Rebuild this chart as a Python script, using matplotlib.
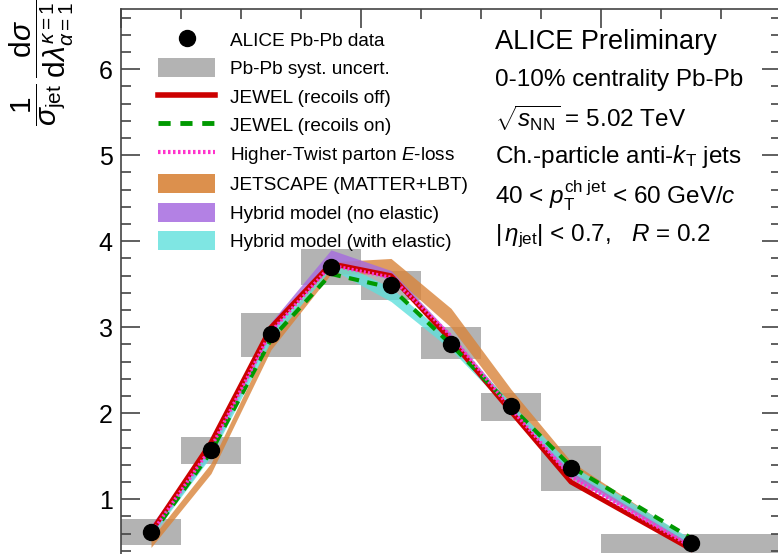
import numpy as np
import matplotlib
matplotlib.use("Agg")
import matplotlib.pyplot as plt
from matplotlib.lines import Line2D
from matplotlib.patches import Patch
from matplotlib.ticker import MultipleLocator

plt.rcParams['font.family'] = ['Liberation Sans', 'DejaVu Sans']
plt.rcParams['mathtext.fontset'] = 'custom'
plt.rcParams['mathtext.rm'] = 'Liberation Sans'
plt.rcParams['mathtext.it'] = 'Liberation Sans:italic'
plt.rcParams['mathtext.bf'] = 'Liberation Sans:bold'

# --- data ---
bin_edges = [0.0, 0.005, 0.01, 0.015, 0.02, 0.025, 0.03, 0.035, 0.04, 0.055]
data_y = [0.62, 1.57, 2.92, 3.70, 3.49, 2.81, 2.08, 1.36, 0.49]
syst_lo = [0.47, 1.41, 2.66, 3.49, 3.32, 2.63, 1.91, 1.10, 0.37]
syst_hi = [0.77, 1.72, 3.16, 3.91, 3.65, 3.00, 2.24, 1.62, 0.60]

jewel_off = [0.62, 1.66, 3.00, 3.74, 3.60, 2.85, 2.02, 1.20, 0.42]
jewel_on = [0.58, 1.55, 2.86, 3.62, 3.46, 2.80, 2.08, 1.38, 0.55]
higher_twist = [0.60, 1.60, 2.95, 3.72, 3.58, 2.90, 2.05, 1.26, 0.45]

jetscape_lo = [0.44, 1.30, 2.74, 3.62, 3.62, 3.00, 2.08, 1.30, 0.44]
jetscape_hi = [0.54, 1.42, 2.88, 3.76, 3.80, 3.22, 2.28, 1.44, 0.52]
hyb_noel_lo = [0.58, 1.52, 2.92, 3.78, 3.55, 2.84, 2.00, 1.26, 0.44]
hyb_noel_hi = [0.70, 1.64, 3.06, 3.90, 3.66, 2.92, 2.10, 1.34, 0.50]
hyb_el_lo = [0.56, 1.50, 2.84, 3.68, 3.30, 2.74, 2.02, 1.32, 0.48]
hyb_el_hi = [0.66, 1.60, 2.94, 3.80, 3.46, 2.86, 2.12, 1.40, 0.54]

edges = np.array(bin_edges)
xc = 0.5 * (edges[:-1] + edges[1:])
widths = np.diff(edges)

fig = plt.figure(figsize=(7.78, 5.54), dpi=100)
ax = fig.add_axes([121 / 778, 0.0, (781 - 121) / 778, (554 - 9) / 554])
ax.set_xlim(0.0, 0.055)
ax.set_ylim(0.364, 6.70)

# syst boxes
ax.bar(xc, np.array(syst_hi) - np.array(syst_lo), bottom=syst_lo, width=widths,
       color='#b3b3b3', edgecolor='none', zorder=1)

# model bands
ax.fill_between(xc, jetscape_lo, jetscape_hi, color='#d9843a', alpha=0.8, lw=0, zorder=2)
ax.fill_between(xc, hyb_noel_lo, hyb_noel_hi, color='#a66be0', alpha=0.8, lw=0, zorder=2)
ax.fill_between(xc, hyb_el_lo, hyb_el_hi, color='#5fe0dc', alpha=0.8, lw=0, zorder=2)

# model lines
ax.plot(xc, jewel_off, color='#cc0000', lw=3.5, zorder=3)
ax.plot(xc, jewel_on, color='#009900', lw=3, ls=(0, (2.5, 2)), zorder=3)
ax.plot(xc, higher_twist, color='#ff33cc', lw=2.5, ls=(0, (0.6, 0.6)), zorder=3)

# data points
ax.plot(xc, data_y, 'o', color='black', ms=11.5, zorder=5)

# axes style
ax.spines['bottom'].set_visible(False)
for s in ['left', 'top', 'right']:
    ax.spines[s].set_color('#444444')
    ax.spines[s].set_linewidth(1.2)
ax.yaxis.set_major_locator(MultipleLocator(1))
ax.yaxis.set_minor_locator(MultipleLocator(0.2))
ax.xaxis.set_major_locator(MultipleLocator(0.02))
ax.xaxis.set_minor_locator(MultipleLocator(0.005))
ax.tick_params(axis='y', which='both', direction='in', left=True, right=True, color='#444444')
ax.tick_params(axis='x', which='both', direction='in', top=True, bottom=False,
               labelbottom=False, labeltop=False, color='#444444')
ax.tick_params(which='major', length=14, width=1.2)
ax.tick_params(which='minor', length=7, width=1.2)
ax.tick_params(axis='y', labelsize=18, pad=6)
ax.set_yticks([1, 2, 3, 4, 5, 6])

# y label
fig.text(42 / 778, 1.0, r'$\dfrac{1}{\sigma_{\rm jet}}\,\dfrac{{\rm d}\sigma}{{\rm d}\lambda^{\kappa=1}_{\alpha=1}}$',
         rotation=90, ha='center', va='top', fontsize=21.5)

# legend
handles = [
    Line2D([], [], marker='o', color='black', ls='none', ms=11.5),
    Patch(facecolor='#b3b3b3', edgecolor='none'),
    Line2D([], [], color='#cc0000', lw=4),
    Line2D([], [], color='#009900', lw=3.5, ls=(0, (2.5, 2))),
    Line2D([], [], color='#ff33cc', lw=3, ls=(0, (0.6, 0.6))),
    Patch(facecolor='#d9843a', alpha=0.9, edgecolor='none'),
    Patch(facecolor='#a66be0', alpha=0.85, edgecolor='none'),
    Patch(facecolor='#5fe0dc', alpha=0.8, edgecolor='none'),
]
labels = [
    'ALICE Pb-Pb data',
    'Pb-Pb syst. uncert.',
    'JEWEL (recoils off)',
    'JEWEL (recoils on)',
    r'Higher-Twist parton $E$-loss',
    'JETSCAPE (MATTER+LBT)',
    'Hybrid model (no elastic)',
    'Hybrid model (with elastic)',
]
fig.legend(handles, labels, loc='upper left', bbox_to_anchor=(158 / 778, 1 - 30 / 554),
           frameon=False, fontsize=13.7, handlelength=3.0, handleheight=1.15,
           handletextpad=0.8, labelspacing=0.45, borderaxespad=0, borderpad=0)

# annotation text
fig.text(495 / 778, 1 - 42 / 554, 'ALICE Preliminary', fontsize=19.5, va='center')
lines = [
    '0-10% centrality Pb-Pb',
    r'$\sqrt{s_{\rm NN}}$ = 5.02 TeV',
    r'Ch.-particle anti-$k_{\rm T}$ jets',
    r'40 < $p_{\rm T}^{\rm ch\ jet}$ < 60 GeV/$c$',
    r'$|\,\eta_{\rm jet}|$ < 0.7,   $R$ = 0.2',
]
ys = [80, 118, 157, 196, 236]
for t, y in zip(lines, ys):
    fig.text(495 / 778, 1 - y / 554, t, fontsize=17.5, va='center')

fig.savefig('out.png', dpi=100)
